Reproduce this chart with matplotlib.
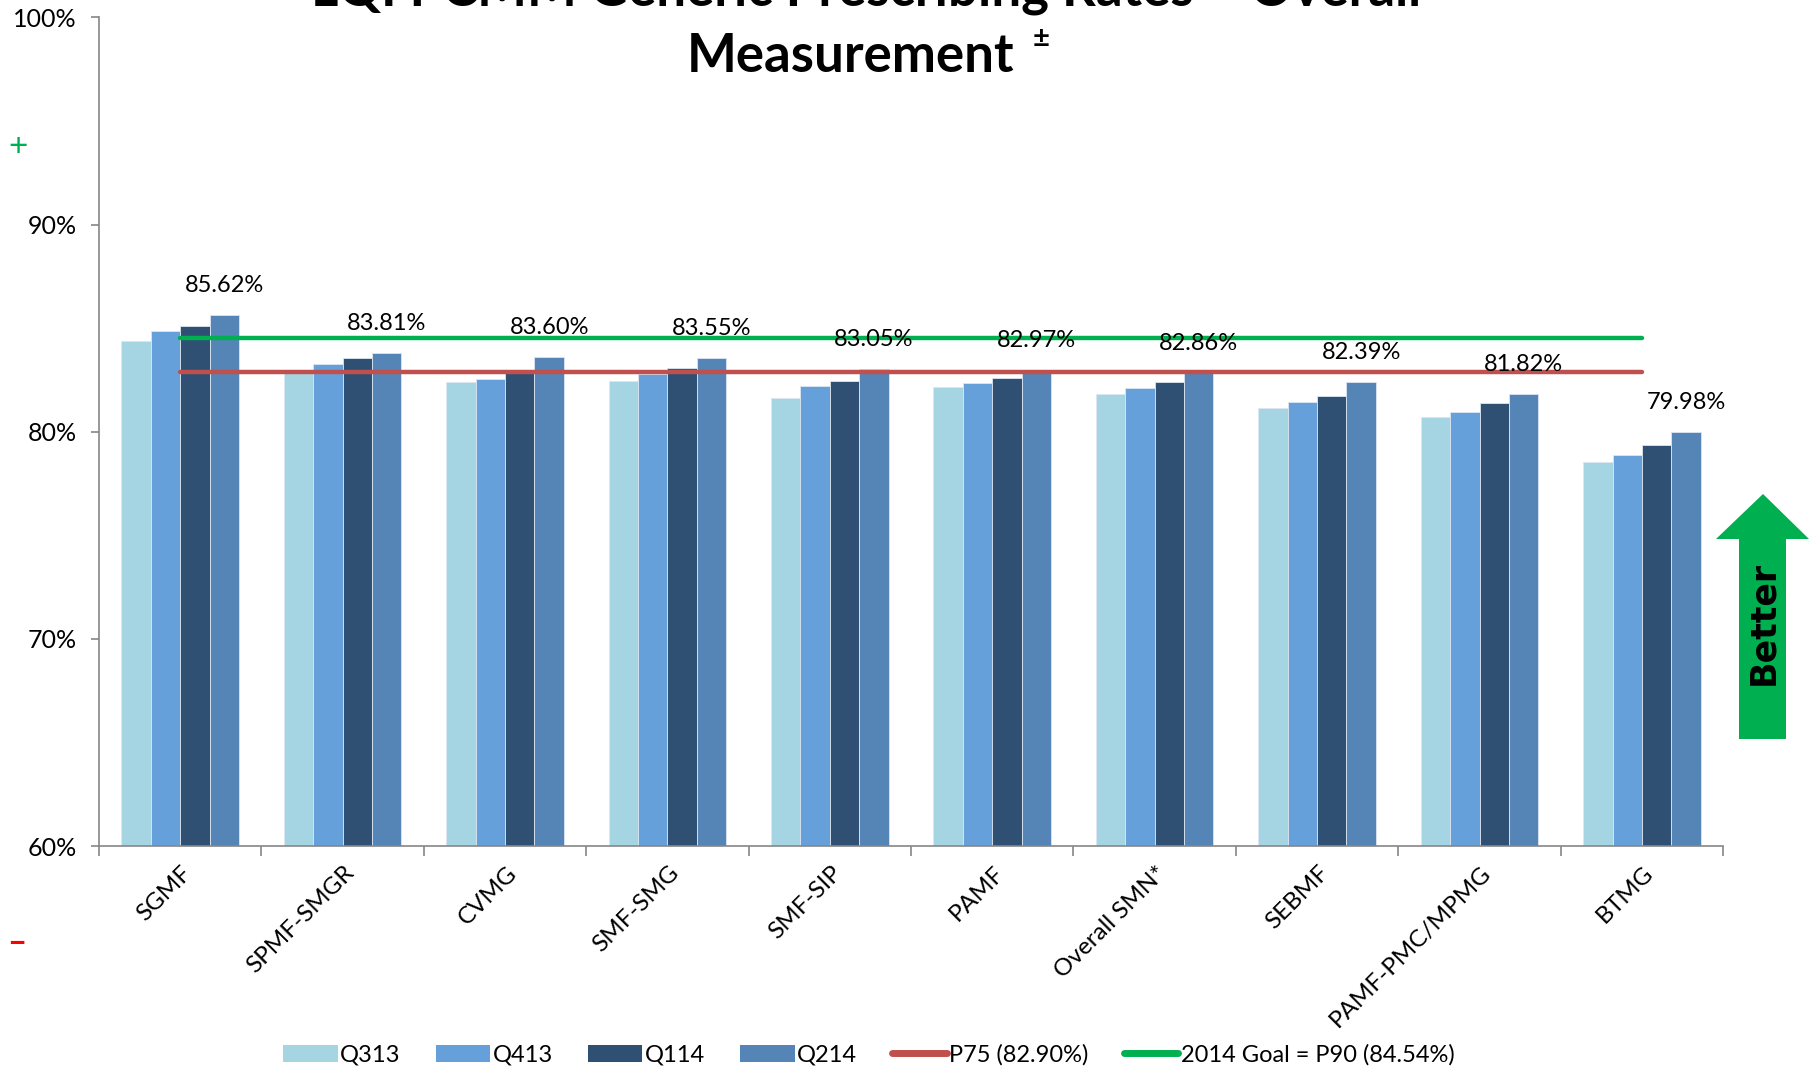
import numpy as np
import matplotlib.pyplot as plt
from matplotlib.patches import Polygon
from matplotlib.lines import Line2D
from matplotlib.patches import Patch

plt.rcParams['font.family'] = ['Lato', 'DejaVu Sans']

# data
groups = ["SGMF", "SPMF-SMGR", "CVMG", "SMF-SMG", "SMF-SIP", "PAMF",
          "Overall SMN*", "SEBMF", "PAMF-PMC/MPMG", "BTMG"]
q313 = [84.39, 82.85, 82.41, 82.45, 81.64, 82.15, 81.82, 81.14, 80.72, 78.53]
q413 = [84.86, 83.25, 82.54, 82.80, 82.23, 82.36, 82.11, 81.45, 80.95, 78.90]
q114 = [85.11, 83.58, 82.95, 83.08, 82.47, 82.60, 82.40, 81.72, 81.40, 79.34]
q214 = [85.62, 83.81, 83.60, 83.55, 83.05, 82.97, 82.86, 82.39, 81.82, 79.98]
p75 = 82.90
goal = 84.54
series_names = ["Q313", "Q413", "Q114", "Q214"]
colors = ["#A5D5E2", "#66A0DA", "#2F5073", "#5584B6"]

fig = plt.figure(figsize=(18.1, 10.71), dpi=100)
ax = fig.add_axes([0.0547, 0.210, 0.8973, 0.7738])

x = np.arange(len(groups))
w = 0.181
for i, vals in enumerate([q313, q413, q114, q214]):
    ax.bar(x + (i - 1.5) * w, vals, width=w, color=colors[i],
           edgecolor="#DCE6F2", linewidth=0.6)

ax.plot(x, [p75] * len(x), color="#C0504D", lw=3.2, solid_capstyle="round")
ax.plot(x, [goal] * len(x), color="#00B050", lw=3.2, solid_capstyle="round")

for xi, v in zip(x, q214):
    ax.text(xi + 1.5 * w, v + 1.42, f"{v:.2f}%", ha="center", va="center",
            fontsize=17, color="black")

ax.set_ylim(60, 100)
ax.set_xlim(-0.5, len(groups) - 0.5)
ax.set_yticks([60, 70, 80, 90, 100])
ax.set_yticklabels(["60%", "70%", "80%", "90%", "100%"], fontsize=18)
ax.set_xticks(np.arange(len(groups) + 1) - 0.5)
ax.set_xticklabels([])
ax.tick_params(axis="x", length=7, color="#868686", width=1.2)
ax.tick_params(axis="y", length=6, color="#868686", width=1.2, pad=10)
for s in ["top", "right"]:
    ax.spines[s].set_visible(False)
for s in ["left", "bottom"]:
    ax.spines[s].set_color("#868686")
    ax.spines[s].set_linewidth(1.2)

for xi, name in zip(x, groups):
    ax.annotate(name, xy=(xi, 60), xycoords="data", xytext=(6, -17),
                textcoords="offset points", rotation=45, ha="right",
                va="center", rotation_mode="anchor", fontsize=17.5)

# title (first line runs off the top edge)
fig.text(0.4785, 0.9950, "LQI PCMM Generic Prescribing Rates \u2013 Overall",
         ha="center", va="baseline", fontsize=38, fontweight="bold")
fig.text(0.4700, 0.9330, "Measurement", ha="center", va="baseline",
         fontsize=38, fontweight="bold")
fig.text(0.5750, 0.9560, "\u00b1", ha="center", va="baseline",
         fontsize=21, fontweight="bold")

fig.text(0.010, 0.863, "+", color="#00B050", fontsize=24, ha="center", va="center")
fig.text(0.009, 0.120, "\u2013", color="#FF0000", fontsize=24, ha="center",
         va="center", fontweight="bold")

# "Better" arrow
W, H = 1810, 1071
pts = [(1739, 739), (1739, 539), (1716, 539), (1763, 494), (1809, 539),
       (1786, 539), (1786, 739)]
arrow = Polygon([(px / W, 1 - py / H) for px, py in pts], closed=True,
                transform=fig.transFigure, facecolor="#00B050", edgecolor="none")
fig.patches.append(arrow)
fig.text(1763 / W, 1 - 623 / H, "Better", rotation=90, ha="center", va="center",
         fontsize=25, fontweight="bold", family=["DejaVu Sans"])

handles = [Patch(facecolor=c, edgecolor="none") for c in colors]
handles += [Line2D([], [], color="#C0504D", lw=5, solid_capstyle="round"),
            Line2D([], [], color="#00B050", lw=5, solid_capstyle="round")]
labels = series_names + [f"P75 ({p75:.2f}%)", f"2014 Goal = P90 ({goal:.2f}%)"]
fig.legend(handles, labels, loc="center", bbox_to_anchor=(0.48, 0.015), ncol=6,
           frameon=False, fontsize=17, handlelength=2.3, handleheight=0.75,
           handletextpad=0.1, columnspacing=1.5)

fig.savefig("out.png", dpi=100)
